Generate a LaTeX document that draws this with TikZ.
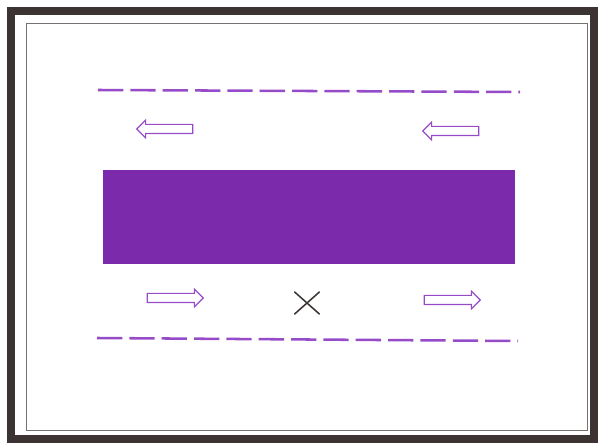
\documentclass[tikz,border=0pt]{standalone}
\usepackage{xcolor}
\usepackage{tikz}
\usetikzlibrary{shapes.arrows}

\definecolor{bandpurple}{RGB}{122,42,170}
\definecolor{linepurple}{RGB}{150,75,200}
\definecolor{framedark}{RGB}{60,52,50}

\begin{document}
\begin{tikzpicture}[
                x=0.025cm, y=-0.025cm,
                flow arrow/.style={single arrow, draw=linepurple, fill=white, line width=0.8pt,
                    minimum height=1.4cm, minimum width=0.42cm, inner sep=0.1cm,
                    single arrow head extend=0.11cm},
                left flow/.style={flow arrow, shape border rotate=180},
                right flow/.style={flow arrow},
                lane/.style={linepurple, line width=1.8pt, dash pattern=on 18pt off 5pt}
            ]

            \useasboundingbox (0,0) rectangle (600,445);

            % Frame
            \draw[framedark, line width=5pt] (11,11) rectangle (594,439);
            \draw[framedark!70, line width=0.6pt] (26,23) rectangle (587,430);

            % Band
            \node[fill=bandpurple, inner sep=0pt, minimum width=10.3cm, minimum height=2.35cm] (band) at (309,217) {};

            % Lanes
            \coordinate (tl) at (98,90);
            \coordinate (tr) at (520,92);
            \coordinate (bl) at (97,338);
            \coordinate (br) at (518,341);
            \draw[lane] (tl) -- (tr);
            \draw[lane] (bl) -- (br);

            % Arrows
            \node[left flow] (ul) at (167,129) {};
            \node[left flow] (ur) at (453,131) {};
            \node[right flow] (dl) at (173,298) {};
            \node[right flow] (dr) at (450,300) {};

            % Mark
            \node[inner sep=0pt, minimum width=0.62cm, minimum height=0.55cm] (mark) at (307,303) {};
            \draw[framedark, line width=1.1pt] (mark.north west) -- (mark.south east);
            \draw[framedark, line width=1.1pt] (mark.north east) -- (mark.south west);

            \end{tikzpicture}
\end{document}
